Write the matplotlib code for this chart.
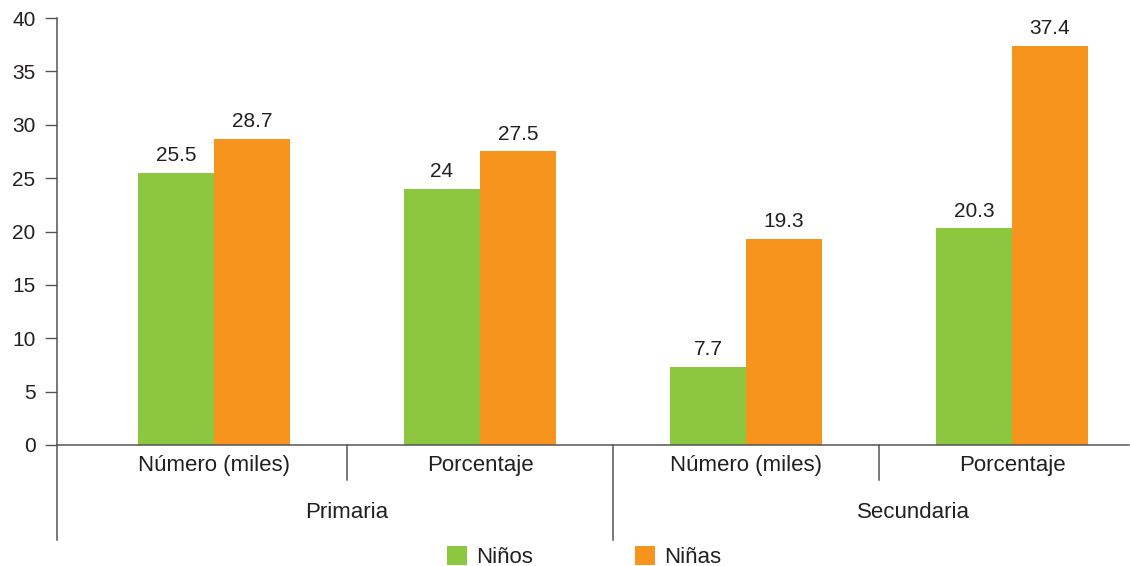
import matplotlib
matplotlib.use("Agg")
import matplotlib.pyplot as plt
import matplotlib.transforms as mtransforms
import numpy as np

plt.rcParams['font.family'] = ['Liberation Sans', 'DejaVu Sans']

categories = ["Número (miles)", "Porcentaje", "Número (miles)", "Porcentaje"]
groups = ["Primaria", "Secundaria"]
series_names = ["Niños", "Niñas"]
ninos = [25.5, 24.0, 7.3, 20.3]
ninas = [28.7, 27.5, 19.3, 37.4]
ninos_labels = ["25.5", "24", "7.7", "20.3"]
ninas_labels = ["28.7", "27.5", "19.3", "37.4"]
yticks = [0, 5, 10, 15, 20, 25, 30, 35, 40]

GREEN = "#8DC63F"
ORANGE = "#F7941D"
TEXT = "#231F20"
AXIS = "#555555"

W, H = 1130, 566
fig = plt.figure(figsize=(W / 100, H / 100), dpi=100)
left_px, right_px, top_px, base_px = 57, 1129, 18, 445
ax = fig.add_axes([left_px / W, 1 - base_px / H, (right_px - left_px) / W, (base_px - top_px) / H])

x = np.arange(len(categories))
bw = 76 / 266
b1 = ax.bar(x - bw / 2, ninos, bw, color=GREEN, label=series_names[0])
b2 = ax.bar(x + bw / 2, ninas, bw, color=ORANGE, label=series_names[1])

for rects, labs in ((b1, ninos_labels), (b2, ninas_labels)):
    for r, lab in zip(rects, labs):
        ax.annotate(lab, (r.get_x() + r.get_width() / 2, r.get_height()),
                    xytext=(0, 5.5), textcoords="offset points",
                    ha="center", va="bottom", fontsize=15, color=TEXT)

ax.set_xlim((left_px - 214) / 266, (right_px - 214) / 266)
ax.set_ylim(0, 40)
ax.set_yticks(yticks)
ax.tick_params(axis='y', length=8.5, width=1, color=AXIS, pad=7, labelsize=15, labelcolor=TEXT)
ax.set_xticks([])
for s in ("top", "right"):
    ax.spines[s].set_visible(False)
for s in ("left", "bottom"):
    ax.spines[s].set_color(AXIS)
    ax.spines[s].set_linewidth(1.1)

trans = mtransforms.blended_transform_factory(ax.transData, ax.transAxes)
ah = base_px - top_px
# left axis extension downwards
ax.plot([ax.get_xlim()[0]] * 2, [0, (base_px - 540) / ah], transform=trans,
        color=AXIS, lw=1.1, clip_on=False)
# separators
for xs, yb in ((0.5, 480), (1.5, 540), (2.5, 480)):
    ax.plot([xs, xs], [0, (base_px - yb) / ah], transform=trans,
            color=AXIS, lw=1.1, clip_on=False)

for xi, c in zip(x, categories):
    ax.text(xi, (base_px - 466) / ah, c, transform=trans, ha="center", va="center",
            fontsize=16, color=TEXT)
group_pos = [0.5, (913 - 214) / 266]
for gp, g in zip(group_pos, groups):
    ax.text(gp, (base_px - 513) / ah, g, transform=trans, ha="center", va="center",
            fontsize=16, color=TEXT)

fig.legend(handles=[b1, b2], labels=series_names, loc="center",
           bbox_to_anchor=(584 / W, 1 - 557 / H), ncol=2, frameon=False,
           handlelength=0.9, handleheight=0.9, handletextpad=0.4,
           columnspacing=4.6, fontsize=16, labelcolor=TEXT)

fig.savefig("out.png", dpi=100)
